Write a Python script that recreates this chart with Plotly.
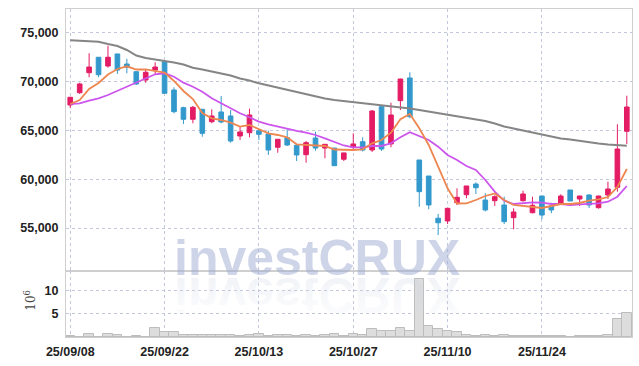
import plotly.graph_objects as go

dates = [
    "25/09/08", "25/09/09", "25/09/10", "25/09/11", "25/09/12",
    "25/09/15", "25/09/16", "25/09/17", "25/09/18", "25/09/19",
    "25/09/22", "25/09/23", "25/09/24", "25/09/25", "25/09/26",
    "25/09/29", "25/09/30", "25/10/01", "25/10/02", "25/10/10",
    "25/10/13", "25/10/14", "25/10/15", "25/10/16", "25/10/17",
    "25/10/20", "25/10/21", "25/10/22", "25/10/23", "25/10/24",
    "25/10/27", "25/10/28", "25/10/29", "25/10/30", "25/10/31",
    "25/11/03", "25/11/04", "25/11/05", "25/11/06", "25/11/07",
    "25/11/10", "25/11/11", "25/11/12", "25/11/13", "25/11/14",
    "25/11/17", "25/11/18", "25/11/19", "25/11/20", "25/11/21",
    "25/11/24", "25/11/25", "25/11/26", "25/11/27", "25/11/28",
    "25/12/01", "25/12/02", "25/12/03", "25/12/04", "25/12/05",
]

open_ = [67616, 68877, 70930, 72510, 71615, 72850, 71820, 71030, 70180, 71205,
         72060, 69150, 67340, 66150, 67175, 65900, 66900, 66490, 64440, 64775,
         64980, 64640, 63280, 64260, 63480, 62520, 64230, 63200, 63200, 62050,
         63280, 63850, 63000, 67440, 63620, 68060, 70390, 61975, 60330, 56000,
         55720, 57600, 58420, 59510, 57870, 57800, 57360, 56060, 57800, 56570,
         58280, 57260, 57460, 58900, 57975, 58385, 57080, 58385, 59175, 64920]
high = [68450, 69900, 72920, 72510, 73700, 72850, 72360, 71030, 71310, 72000,
        72160, 69430, 67440, 67510, 67175, 67175, 68540, 67100, 65390, 67240,
        64980, 64980, 64100, 65120, 63480, 63920, 64880, 63585, 63200, 62720,
        64710, 64300, 67100, 67440, 67850, 70300, 70970, 61975, 60330, 56440,
        57020, 59070, 59310, 59680, 58560, 58360, 58210, 57020, 58830, 58210,
        58280, 57590, 58460, 58900, 58283, 58450, 58300, 59750, 65640, 68570]
low = [67300, 68750, 70460, 70460, 71440, 70800, 70870, 69670, 69900, 70690,
       68815, 66760, 65670, 65740, 64365, 65740, 65740, 63750, 64030, 64300,
       64030, 62490, 62720, 63410, 61870, 61700, 62930, 62150, 61390, 61870,
       63100, 62850, 62800, 62900, 63280, 67100, 66250, 57185, 56920, 54280,
       55410, 57350, 58050, 58490, 56700, 57260, 55410, 54870, 57700, 56500,
       55900, 56510, 57460, 57770, 57260, 57050, 57000, 57975, 58720, 63620]
close = [68405, 69770, 71510, 70720, 72510, 71200, 71480, 69770, 70970, 71510,
         68815, 66930, 66150, 67380, 64710, 66490, 65870, 63920, 64850, 66590,
         64610, 63000, 64100, 63510, 62490, 63750, 63200, 63585, 61390, 62700,
         63620, 63000, 67000, 63100, 66590, 70280, 66420, 58725, 57360, 55540,
         57020, 58150, 59310, 59130, 56850, 58210, 55650, 56640, 58490, 57330,
         56330, 56850, 58280, 57770, 58283, 57360, 58280, 59000, 63100, 67410]

ma_short = [67718, 68128, 69257, 69872, 70744, 71308, 71585, 71257, 71257, 71103,
            70928, 70077, 69052, 68231, 66795, 66252, 66077, 65800, 65390, 65564,
            65123, 64713, 64539, 64303, 63585, 63513, 63442, 63411, 63052, 63000,
            63000, 63072, 63688, 64026, 64775, 66149, 66693, 65226, 63513, 61288,
            59072, 57514, 57534, 57872, 58283, 58539, 57872, 57360, 57257, 57206,
            57052, 57257, 57462, 57462, 57565, 57801, 57944, 58180, 59206, 61052]
ma_mid = [67718, 67790, 68057, 68303, 68641, 69082, 69493, 69903, 70354, 70764,
          70867, 70518, 69903, 69493, 68980, 68303, 67790, 67277, 66765, 66354,
          65903, 65636, 65390, 65123, 64949, 64775, 64539, 64200, 63852, 63462,
          63277, 63277, 63411, 63411, 63688, 64303, 64816, 64436, 64026, 63339,
          62488, 61975, 61360, 60949, 59924, 58724, 57801, 57462, 57534, 57636,
          57595, 57462, 57462, 57360, 57431, 57462, 57534, 57698, 58211, 59308]
ma_long = [74251, 74220, 74180, 74100, 73870, 73665, 73256, 72692, 72436, 72300,
           72180, 71975, 71770, 71440, 71257, 71050, 70846, 70641, 70333, 70128,
           69841, 69616, 69410, 69205, 68949, 68692, 68487, 68282, 68128, 68026,
           67923, 67790, 67718, 67615, 67482, 67359, 67256, 67100, 66948, 66795,
           66590, 66436, 66333, 66200, 65975, 65718, 65410, 65206, 65000, 64795,
           64590, 64385, 64180, 64077, 63923, 63770, 63667, 63554, 63482, 63441]

volume = [0.15, 0.1, 0.55, 0.1, 0.6, 0.35, 0.1, 0.25, 0.1, 2.0,
          1.05, 1.05, 0.5, 0.5, 0.5, 0.5, 0.5, 0.5, 0.3, 0.35,
          0.55, 0.3, 0.5, 0.5, 0.3, 0.5, 0.3, 0.4, 0.55, 0.3,
          0.75, 0.4, 1.75, 1.4, 1.35, 2.0, 1.4, 12.6, 2.4, 1.75,
          1.2, 1.1, 0.5, 0.3, 0.5, 0.3, 0.5, 0.3, 0.25, 0.3,
          0.25, 0.25, 0.25, 0.1, 0.15, 0.25, 0.25, 0.5, 3.95, 5.25]

tick_labels = ["25/09/08", "25/09/22", "25/10/13", "25/10/27", "25/11/10", "25/11/24"]
price_ticks = [55000, 60000, 65000, 70000, 75000]
volume_ticks = [5, 10]

RED = "#E31C64"
BLUE = "#3399CC"
GRID = "#c3c8dc"
FRAME = "#cfcfcf"
TICKFONT = dict(family="Liberation Sans, Arial, sans-serif",
                size=12.5, color="#222222", weight="bold")

fig = go.Figure()
fig.add_trace(go.Candlestick(
    x=dates, open=open_, high=high, low=low, close=close,
    increasing=dict(line=dict(color=RED, width=1), fillcolor=RED),
    decreasing=dict(line=dict(color=BLUE, width=1), fillcolor=BLUE),
    whiskerwidth=0, showlegend=False, xaxis="x", yaxis="y", hoverinfo="skip"))
fig.add_trace(go.Scatter(x=dates, y=ma_long, mode="lines",
                         line=dict(color="#858585", width=2), showlegend=False))
fig.add_trace(go.Scatter(x=dates, y=ma_mid, mode="lines",
                         line=dict(color="#CC55EE", width=1.8), showlegend=False))
fig.add_trace(go.Scatter(x=dates, y=ma_short, mode="lines",
                         line=dict(color="#EE8650", width=1.8), showlegend=False))
fig.add_trace(go.Bar(x=dates, y=volume, xaxis="x2", yaxis="y2", showlegend=False,
                     marker=dict(color="#dddddd", line=dict(color="#bdbdbd", width=1))))

common_axis = dict(showgrid=True, gridcolor=GRID, griddash="dot", gridwidth=1,
                   showline=True, mirror=True, linecolor=FRAME, linewidth=1,
                   zeroline=False, automargin=False, ticks="")

fig.update_layout(
    width=639, height=366,
    margin=dict(l=66, r=7, t=9, b=29),
    paper_bgcolor="white", plot_bgcolor="white",
    bargap=0,
    xaxis=dict(type="category", domain=[0, 1], anchor="y", range=[-0.45, 59.55],
               tickvals=tick_labels, showticklabels=False,
               rangeslider=dict(visible=False), **common_axis),
    xaxis2=dict(type="category", anchor="y2", matches="x", range=[-0.45, 59.55],
                tickvals=tick_labels, ticktext=tick_labels, tickfont=TICKFONT,
                ticklabelstandoff=3, **common_axis),
    yaxis=dict(domain=[0.2012, 1], anchor="x", range=[50590, 77460],
               tickvals=price_ticks, tickformat=",", tickfont=TICKFONT,
               ticklabelstandoff=4, **common_axis),
    yaxis2=dict(domain=[0, 0.2012], anchor="x2", range=[0, 14.3],
                tickvals=volume_ticks, tickfont=TICKFONT, ticklabelstandoff=4,
                **common_axis),
    annotations=[
        dict(text="investCRUX", xref="paper", yref="paper", x=0.4435, y=0.241,
             xanchor="center", yanchor="middle", showarrow=False,
             font=dict(family="Liberation Sans, Arial, sans-serif", size=50,
                       color="rgba(160,172,210,0.5)", weight="bold")),
        dict(text="investCRUX", xref="paper", yref="paper", x=0.4435, y=0.128,
             xanchor="center", yanchor="middle", showarrow=False,
             font=dict(family="Liberation Sans, Arial, sans-serif", size=50,
                       color="rgba(195,200,218,0.42)", weight="bold")),
        dict(text="10<sup>6</sup>", xref="paper", yref="paper", x=-0.064, y=0.113,
             xanchor="center", yanchor="middle", showarrow=False, textangle=-90,
             font=dict(family="DejaVu Serif, serif", size=12, color="#444444")),
    ],
)

post_js = """
document.body.style.margin = '0';
document.body.style.overflow = 'hidden';
var gd = document.getElementById('{plot_id}');
function flipReflection(){
  var a = gd.querySelector('g.annotation[data-index="1"]');
  if (!a) return;
  var t = a.querySelector('text');
  if (!t) return;
  var svg = a.ownerSVGElement;
  var ns = 'http://www.w3.org/2000/svg';
  if (svg && !document.getElementById('reflfade')) {
    var defs = document.createElementNS(ns, 'defs');
    var lg = document.createElementNS(ns, 'linearGradient');
    lg.setAttribute('id', 'reflfade');
    lg.setAttribute('x1', '0'); lg.setAttribute('y1', '0');
    lg.setAttribute('x2', '0'); lg.setAttribute('y2', '1');
    var s1 = document.createElementNS(ns, 'stop');
    s1.setAttribute('offset', '0'); s1.setAttribute('stop-color', '#c9cee0');
    s1.setAttribute('stop-opacity', '0.05');
    var s2 = document.createElementNS(ns, 'stop');
    s2.setAttribute('offset', '1'); s2.setAttribute('stop-color', '#c9cee0');
    s2.setAttribute('stop-opacity', '0.7');
    lg.appendChild(s1); lg.appendChild(s2); defs.appendChild(lg);
    svg.insertBefore(defs, svg.firstChild);
  }
  t.style.fill = 'url(#reflfade)';
  var b = t.getBBox();
  var cy = b.y + b.height / 2;
  t.setAttribute('transform', 'translate(0,' + (2 * cy) + ') scale(1,-1)');
}
flipReflection();
"""

fig.write_html("out.html", post_script=post_js, config={"displayModeBar": False})
